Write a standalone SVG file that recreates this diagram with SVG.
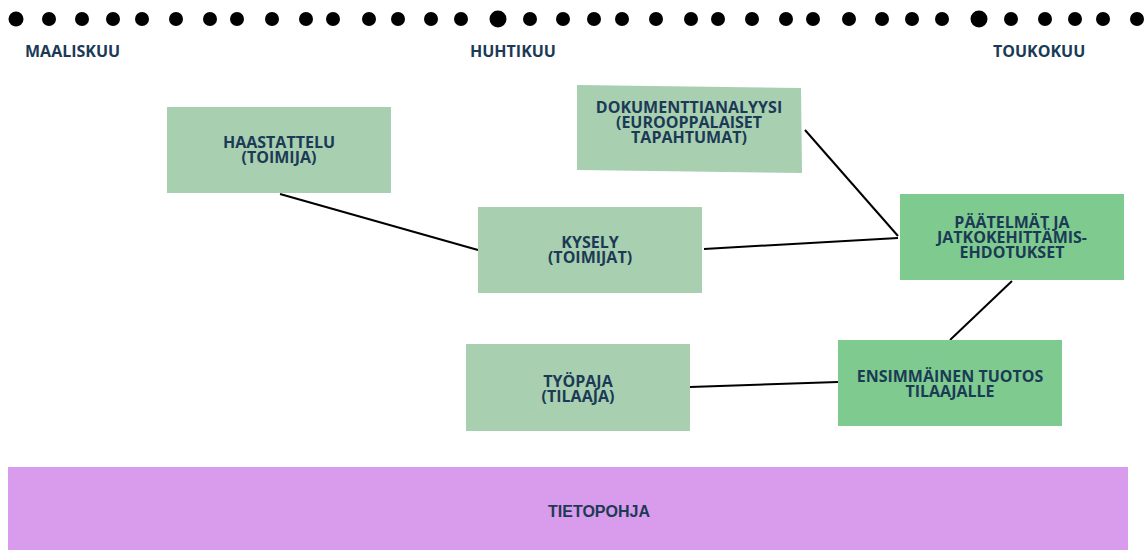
<svg xmlns="http://www.w3.org/2000/svg" width="1145" height="550" viewBox="0 0 1145 550">
<style>
.t{font-family:"Open Sans","Liberation Sans",sans-serif;font-weight:bold;font-size:16px;fill:#1b3a55;text-anchor:middle}
.m{font-family:"Open Sans","Liberation Sans",sans-serif;font-weight:bold;font-size:16px;fill:#1b3a55}
.n1{fill:#a9cfb1}
.n2{fill:#7fcb8f}
.c{stroke:#000;stroke-width:2;fill:none}
</style>
<rect width="1145" height="550" fill="#fff"/>
<g id="dots" fill="#000">
<circle cx="16" cy="19" r="7.5"/><circle cx="49" cy="19" r="7"/><circle cx="82" cy="19" r="7"/><circle cx="113" cy="19" r="7"/><circle cx="142" cy="19" r="7"/><circle cx="176" cy="19" r="7"/><circle cx="210" cy="19" r="7"/><circle cx="237" cy="19" r="7"/><circle cx="272" cy="19" r="7"/><circle cx="306" cy="19" r="7"/><circle cx="333" cy="19" r="7"/><circle cx="369" cy="19" r="7"/><circle cx="398" cy="19" r="7"/><circle cx="431" cy="19" r="7"/><circle cx="461" cy="19" r="7"/><circle cx="498" cy="19" r="8.5"/><circle cx="530" cy="19" r="7"/><circle cx="563" cy="19" r="7"/><circle cx="594" cy="19" r="7"/><circle cx="622" cy="19" r="7"/><circle cx="656" cy="19" r="7"/><circle cx="691" cy="19" r="7"/><circle cx="718" cy="19" r="7"/><circle cx="752" cy="19" r="7"/><circle cx="786" cy="19" r="7"/><circle cx="813" cy="19" r="7"/><circle cx="849" cy="19" r="7"/><circle cx="882" cy="19" r="7"/><circle cx="912" cy="19" r="7"/><circle cx="942" cy="19" r="7"/><circle cx="979" cy="19" r="8.5"/><circle cx="1011" cy="19" r="7"/><circle cx="1045" cy="19" r="7"/><circle cx="1075" cy="19" r="7"/><circle cx="1103" cy="19" r="7"/><circle cx="1137" cy="19" r="7"/>
</g>
<g id="months">
<text class="m" x="25" y="57">MAALISKUU</text>
<text class="m" x="470" y="57">HUHTIKUU</text>
<text class="m" x="993" y="57">TOUKOKUU</text>
</g>
<g id="connectors">
<line class="c" x1="280" y1="194" x2="478" y2="250"/>
<line class="c" x1="704" y1="249" x2="898" y2="238"/>
<line class="c" x1="805" y1="130" x2="898" y2="236"/>
<line class="c" x1="1012" y1="281" x2="950" y2="340"/>
<line class="c" x1="690" y1="387" x2="838" y2="382"/>
</g>
<g id="haastattelu">
<rect class="n1" x="167" y="107" width="224" height="86"/>
<text class="t" x="279" y="148">HAASTATTELU</text>
<text class="t" x="279" y="163">(TOIMIJA)</text>
</g>
<g id="dokumenttianalyysi">
<polygon class="n1" points="577,85 801,88 802,173 577,170"/>
<text class="t" x="689" y="113">DOKUMENTTIANALYYSI</text>
<text class="t" x="689" y="128">(EUROOPPALAISET</text>
<text class="t" x="689" y="143">TAPAHTUMAT)</text>
</g>
<g id="kysely">
<rect class="n1" x="478" y="207" width="224" height="86"/>
<text class="t" x="590" y="248">KYSELY</text>
<text class="t" x="590" y="263">(TOIMIJAT)</text>
</g>
<g id="paatelmat">
<rect class="n2" x="900" y="194" width="224" height="86"/>
<text class="t" x="1012" y="228">PÄÄTELMÄT JA</text>
<text class="t" x="1012" y="243">JATKOKEHITTÄMIS-</text>
<text class="t" x="1012" y="258">EHDOTUKSET</text>
</g>
<g id="tyopaja">
<rect class="n1" x="466" y="344" width="224" height="87"/>
<text class="t" x="578" y="387">TYÖPAJA</text>
<text class="t" x="578" y="402">(TILAAJA)</text>
</g>
<g id="ensimmainen">
<rect class="n2" x="838" y="340" width="224" height="86"/>
<text class="t" x="950" y="382">ENSIMMÄINEN TUOTOS</text>
<text class="t" x="950" y="397">TILAAJALLE</text>
</g>
<g id="tietopohja">
<rect x="8" y="467" width="1120" height="83" fill="#d99bec"/>
<text x="599" y="517" textLength="102" lengthAdjust="spacingAndGlyphs" style="font-family:'Liberation Sans',sans-serif;font-weight:bold;font-size:16px;fill:#1b3a55;text-anchor:middle">TIETOPOHJA</text>
</g>
</svg>
